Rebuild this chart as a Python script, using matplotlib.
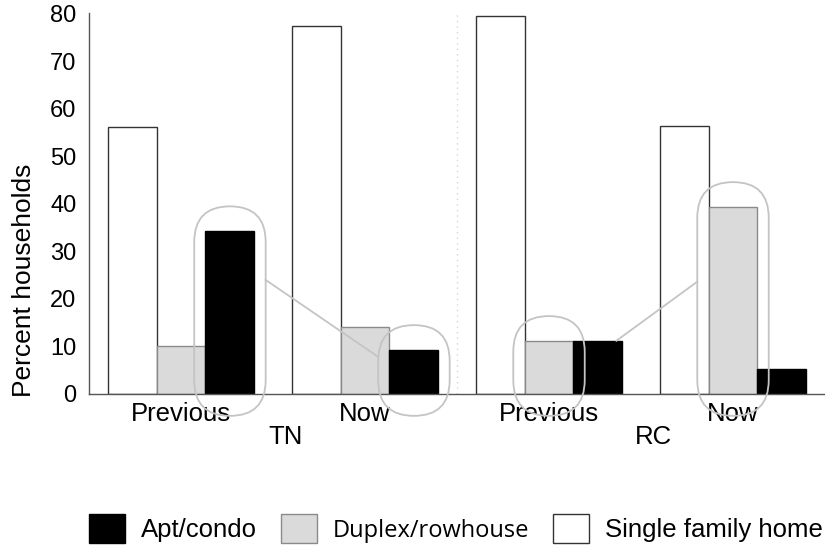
import numpy as np
import matplotlib
matplotlib.use("Agg")
import matplotlib.pyplot as plt
from matplotlib.patches import FancyBboxPatch, Patch

plt.rcParams['font.family'] = ['Liberation Sans', 'DejaVu Sans']

# values (percent of households)
periods = ['Previous', 'Now', 'Previous', 'Now']
regions = ['TN', 'RC']
single = [56.3, 77.5, 79.6, 56.4]
duplex = [10.2, 14.2, 11.2, 39.4]
apt = [34.3, 9.3, 11.2, 5.3]
yticks = [0, 10, 20, 30, 40, 50, 60, 70, 80]

# circled bars: (group index, series offset -1 single / 0 duplex / 1 apt)
circled = [(0, 1), (1, 1), (2, 0), (3, 0)]

fig = plt.figure(figsize=(8.25, 5.46), dpi=100)
ax = fig.add_axes([89/825, 152/546, 736/825, 381/546])

x = np.arange(len(periods))
bw = 0.266
ax.bar(x - bw, single, bw, color='white', edgecolor='#333333', lw=1, zorder=2)
ax.bar(x, duplex, bw, color='#dadada', edgecolor='#8a8a8a', lw=1, zorder=2)
ax.bar(x + bw, apt, bw, color='black', edgecolor='black', lw=1, zorder=2)

ax.set_xlim(-0.5, 3.5)
ax.set_ylim(0, 80.2)
ax.set_yticks(yticks)
ax.set_xticks(x)
ax.set_xticklabels(periods)
ax.tick_params(axis='y', length=0, pad=9, labelsize=17)
ax.tick_params(axis='x', length=0, pad=6, labelsize=18.5)
for s in ['top', 'right']:
    ax.spines[s].set_visible(False)
for s in ['left', 'bottom']:
    ax.spines[s].set_color('#555555')
    ax.spines[s].set_linewidth(1)

# faint divider between the two regions
ax.axvline(1.5, color='#d6d6d6', ls=(0, (1, 3)), lw=1, zorder=0)

# region names under the period labels
for i, r in enumerate(regions):
    ax.text(2 * i + 0.57, -0.113, r, transform=ax.get_xaxis_transform(),
            ha='center', va='center', fontsize=18.5)

fig.text(24/825, 1 - 280/546, 'Percent households', rotation=90,
         ha='center', va='center', fontsize=19)

# rounded outlines around highlighted bars
xpx = ax.get_position().width * fig.get_figwidth() * fig.dpi / 4.0
ypx = ax.get_position().height * fig.get_figheight() * fig.dpi / 80.2
aspect = xpx / ypx
series = {-1: single, 0: duplex, 1: apt}
w = 1.46 * bw
for g, s in circled:
    v = series[s][g]
    xc = x[g] + s * bw
    y0, y1 = -4.6, v + 5.2
    p = FancyBboxPatch((xc - w / 2, y0), w, y1 - y0,
                       boxstyle=f"round,pad=0,rounding_size={w/2}",
                       mutation_aspect=aspect, fill=False,
                       edgecolor='#c4c4c4', lw=1.3, clip_on=False, zorder=4)
    ax.add_patch(p)

# connectors between the outlines
ax.plot([x[0] + bw + w / 2, x[1] + bw - w / 2], [apt[0] * 0.7, apt[1] * 0.84],
        color='#c4c4c4', lw=1.3, zorder=5)
ax.plot([x[2] + bw + 0.1, x[3] - w / 2], [apt[2], duplex[3] * 0.6],
        color='#c4c4c4', lw=1.3, zorder=5)

handles = [Patch(facecolor='black', edgecolor='black'),
           Patch(facecolor='#dadada', edgecolor='#8a8a8a'),
           Patch(facecolor='white', edgecolor='#333333')]
labels = ['Apt/condo', 'Duplex/rowhouse', 'Single family home']
leg = fig.legend(handles, labels, loc='lower left', bbox_to_anchor=(89/825, 3/546),
                 ncol=3, frameon=False, fontsize=18.5, handlelength=1.4,
                 handleheight=1.36, handletextpad=0.64, columnspacing=0.9,
                 borderpad=0, borderaxespad=0)
leg.get_texts()[1].set_fontfamily('Open Sans')
leg.get_texts()[1].set_fontsize(17)

fig.savefig('out.png', dpi=100)
